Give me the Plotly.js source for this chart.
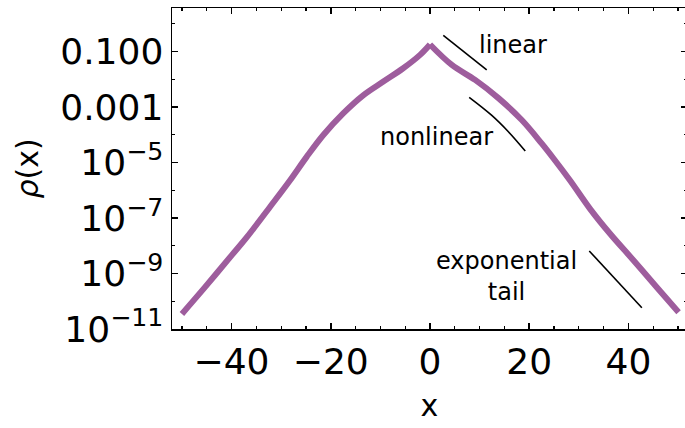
<!DOCTYPE html>
<html>
<head>
<meta charset="utf-8">
<script src="https://cdn.plot.ly/plotly-3.0.1.min.js"></script>
<style>
html, body { margin: 0; padding: 0; overflow: hidden; background: #fff; }
#chart { width: 690px; height: 428px; }
</style>
</head>
<body>
<div id="chart"></div>
<script>
// density curve (left and right of the cusp at x = 0)
const leftX  = [-50.0, -45.3, -39.9, -36.95, -32.26, -28.2, -24.86, -21.5, -17.5, -13.4, -9.4, -5.4, -2.0, 0];
const leftY  = [3.5e-11, 3.3e-10, 4.7e-9, 2.0e-8, 2.5e-7, 2.3e-6, 1.6e-5, 9.8e-5, 5.9e-4, 2.7e-3, 8.3e-3, 2.5e-2, 7.6e-2, 1.8e-1];
const rightX = [0, 4.4, 9.1, 13.8, 18.5, 22.5, 24.9, 28.2, 32.3, 36.3, 41.0, 45.7, 50.1];
const rightY = [1.8e-1, 3.3e-2, 9.5e-3, 2.1e-3, 3.4e-4, 4.9e-5, 1.4e-5, 2.3e-6, 2.1e-7, 2.7e-8, 3.0e-9, 3.2e-10, 4.0e-11];

// guide lines
const linearX = [2.68, 11.43];
const linearY = [0.38, 0.022];
const nonlinearX = [7.9, 12.4, 15.8, 19.2];
const nonlinearY = [2.24e-3, 5.1e-4, 1.29e-4, 2.6e-5];
const tailX = [32.1, 42.7];
const tailY = [6.5e-9, 5.8e-11];

// ticks
const xTickVals = [-40, -20, 0, 20, 40];
const yTickVals = [1e-1, 1e-3, 1e-5, 1e-7, 1e-9, 1e-11];
const yTickText = ['0.100', '0.001', '10<sup>\u22125</sup>', '10<sup>\u22127</sup>', '10<sup>\u22129</sup>', '10<sup>\u221211</sup>'];
const yMinorVals = [1, 1e-2, 1e-4, 1e-6, 1e-8, 1e-10];

const font = 'DejaVu Sans, sans-serif';
const guide = {color: '#000', width: 1.6};
const curveLine = {color: 'rgb(158,93,157)', width: 6, shape: 'spline', smoothing: 1};

const traces = [
  {x: leftX, y: leftY, mode: 'lines', line: curveLine},
  {x: rightX, y: rightY, mode: 'lines', line: curveLine},
  {x: linearX, y: linearY, mode: 'lines', line: guide},
  {x: nonlinearX, y: nonlinearY, mode: 'lines', line: Object.assign({shape: 'spline'}, guide)},
  {x: tailX, y: tailY, mode: 'lines', line: guide}
];

const layout = {
  width: 690, height: 428,
  margin: {l: 172, r: 3, t: 8, b: 99},
  showlegend: false,
  paper_bgcolor: '#fff', plot_bgcolor: '#fff',
  font: {family: font, color: '#000', size: 36},
  xaxis: {
    range: [-52, 51.8],
    tickmode: 'array', tickvals: xTickVals,
    ticks: 'inside', ticklen: 6, tickwidth: 1.5, tickcolor: '#000',
    minor: {dtick: 5, tick0: 0, ticks: 'inside', ticklen: 3, tickwidth: 1.2, tickcolor: '#000'},
    showline: true, linecolor: '#000', linewidth: 1.5, mirror: 'ticks',
    showgrid: false, zeroline: false,
    tickfont: {family: font, size: 36, color: '#000'},
    title: {text: 'x', font: {family: font, size: 30, color: '#000'}, standoff: 14}
  },
  yaxis: {
    type: 'log',
    range: [-11, 0.57],
    tickmode: 'array', tickvals: yTickVals, ticktext: yTickText,
    ticks: 'inside', ticklen: 6, tickwidth: 1.5, tickcolor: '#000',
    minor: {tickmode: 'array', tickvals: yMinorVals, ticks: 'inside', ticklen: 3, tickwidth: 1.2, tickcolor: '#000'},
    showline: true, linecolor: '#000', linewidth: 1.5, mirror: 'ticks',
    showgrid: false, zeroline: false,
    tickfont: {family: font, size: 36, color: '#000'},
    title: {text: '<i>\u03c1</i>(x)', font: {family: font, size: 30, color: '#000'}, standoff: 12}
  },
  annotations: [
    {x: 16.7, y: -0.76, xref: 'x', yref: 'y', text: 'linear', showarrow: false,
     xanchor: 'center', yanchor: 'middle', font: {family: font, size: 24, color: '#000'}},
    {x: 1.35, y: -4.08, xref: 'x', yref: 'y', text: 'nonlinear', showarrow: false,
     xanchor: 'center', yanchor: 'middle', font: {family: font, size: 24, color: '#000'}},
    {x: 15.5, y: -9.11, xref: 'x', yref: 'y', text: 'exponential<br>tail', showarrow: false,
     xanchor: 'center', yanchor: 'middle', align: 'center', font: {family: font, size: 24, color: '#000'}}
  ]
};

Plotly.newPlot('chart', traces, layout, {staticPlot: true, displayModeBar: false});
</script>
</body>
</html>
